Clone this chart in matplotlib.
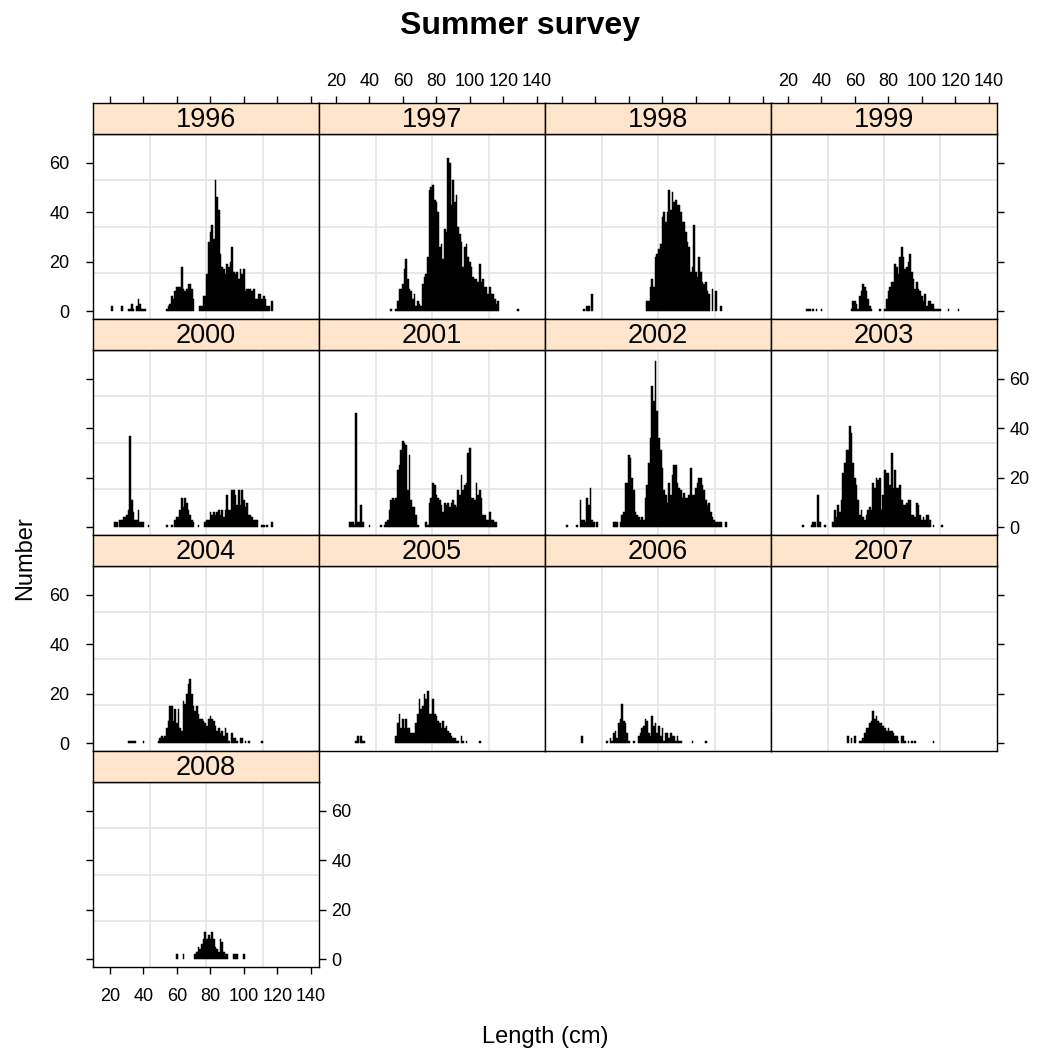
import numpy as np
import matplotlib
matplotlib.use("Agg")
import matplotlib.pyplot as plt

plt.rcParams['font.family'] = ['Liberation Sans', 'DejaVu Sans']

# ---------------- data (counts per 1 cm length class) ----------------
years = [1996, 1997, 1998, 1999, 2000, 2001, 2002, 2003, 2004, 2005, 2006, 2007, 2008]

start1996 = 21
n1996 = [2, 0, 0, 0, 0, 0, 2, 0, 0, 0, 1, 1, 3, 1, 0, 2, 5, 3, 1, 1, 1,
         0, 0, 0, 0, 0, 0, 0, 0, 0, 0, 0, 0,
         1, 2, 3, 6, 5, 8, 10, 10, 10, 18, 9, 8, 9, 11, 11, 9, 5,
         0, 0, 0,
         2, 2, 6, 6, 15, 28, 32, 35, 29, 53, 46, 41, 23, 18, 17, 15, 19, 18, 20, 26,
         16, 15, 16, 13, 17, 15, 17,
         8, 9, 9, 9, 8, 9, 5, 5, 7, 7, 5, 6, 5, 2, 2, 0, 4]

start1997 = 53
n1997 = [1, 0, 0,
         1, 4, 9, 9, 11, 17, 21, 13, 9, 8, 5, 7, 2, 4, 3, 2, 11, 14, 15, 22,
         49, 50, 51, 45, 44, 40, 26, 27, 21, 33, 32, 62, 60, 43, 53, 44, 47, 34, 31, 28,
         18, 26, 27, 22, 20, 18, 14, 13, 13, 12, 19, 12, 13, 10, 10, 7, 10, 7, 7, 5, 3, 4,
         0, 0, 0, 0, 0, 0, 0, 0, 0, 0, 0, 1]

start1998 = 33
n1998 = [1, 0, 2, 2, 0, 7] + [0] * 32 + \
        [4, 4, 10, 13, 10, 22, 23, 25, 27, 38, 40, 36, 40, 49,
         41, 48, 44, 45, 43, 43, 40, 36, 36, 32, 28, 26, 16, 18, 35,
         16, 14, 22, 16, 12, 11, 12, 8, 7, 0, 9, 0, 8, 0, 0, 2]

start1999 = 31
n1999 = [1, 1, 1, 0, 1, 0, 1, 0, 0, 1] + [0] * 17 + \
        [1, 4, 4, 3, 1, 6, 8, 11, 10, 8, 5, 2, 1, 0, 0, 0, 0, 1, 0, 0,
         1, 5, 8, 10, 12, 12, 19, 18, 15, 22, 26, 22, 17, 18, 20, 23, 16, 13, 9, 12,
         9, 8, 6, 4, 7, 2, 4, 4, 3, 3, 1, 1, 1, 1, 0, 0, 0, 0, 1, 0, 0, 0, 0, 0, 1]

start2000 = 23
n2000 = [2, 2, 0, 3, 3, 4, 4, 5, 7, 37, 11, 6, 3, 3, 7, 2, 2, 2, 0, 0, 1] + [0] * 10 + \
        [1, 0, 0, 1, 0, 3, 4, 4, 7, 12, 8, 12, 10, 7, 5, 3, 2, 0, 0, 1, 0, 0, 0,
         2, 3, 3, 6, 5, 6, 5, 6, 7, 5, 7, 4, 7, 13, 7, 7, 15, 15, 13, 9, 15, 9, 15,
         11, 8, 10, 5, 5, 4, 3, 3, 3, 0, 0, 1, 1, 0, 1, 0, 0, 2]

start2001 = 28
n2001 = [2, 2, 2, 1, 46, 2, 2, 9, 2, 0, 0, 0, 1, 0, 0, 0, 0, 0, 0, 1, 0, 1,
         2, 3, 7, 11, 12, 11, 12, 23, 25, 31, 35, 34, 33, 15, 29, 11, 8, 8, 5, 1,
         0, 0, 0, 0, 2, 1, 10, 12, 18, 17, 13, 12, 11, 9, 6, 10, 9, 10, 8, 10, 11, 9, 8,
         15, 13, 21, 15, 17, 18, 30, 32, 12, 12, 11, 18, 13, 15, 12, 5, 5, 3, 3, 6, 3, 3, 2, 2]

start2002 = 23
n2002 = [1, 0, 0, 0, 0, 0, 1, 0, 11, 3, 3, 2, 12, 9, 16, 3, 2, 0, 2] + [0] * 9 + \
        [2, 2, 2, 0, 2, 5, 6, 18, 18, 29, 28, 20, 15, 6, 5, 4, 3, 4, 3,
         12, 17, 26, 36, 57, 51, 67, 47, 36, 31, 24, 15, 13, 10, 18, 13, 21, 25, 25, 18,
         16, 15, 12, 14, 12, 12, 13, 24, 13, 13, 16, 18, 20, 20, 17, 15, 11, 9, 10, 6,
         4, 3, 2, 2, 2, 2, 0, 0, 2]

start2003 = 29
n2003 = [1, 0, 0, 0, 0, 1, 2, 2, 0, 13, 2, 0, 0, 1, 0, 0, 0, 0,
         2, 7, 4, 9, 6, 11, 22, 26, 31, 31, 41, 38, 26, 20, 17, 11, 5, 7, 4, 3, 5, 7, 8, 7,
         18, 16, 20, 19, 20, 7, 13, 23, 22, 22, 17, 30, 16, 23, 16, 16, 17, 11, 9, 9, 10,
         11, 11, 5, 5, 4, 10, 9, 5, 3, 4, 3, 5, 5, 3, 0, 1, 0, 0, 0, 0, 1]

start2004 = 31
n2004 = [1, 1, 1, 1, 1, 0, 0, 0, 0, 1] + [0] * 8 + \
        [1, 2, 3, 2, 3, 6, 9, 15, 15, 9, 14, 8, 14, 6, 5, 17, 16, 20, 24, 26, 20, 15, 13,
         15, 12, 10, 10, 9, 8, 7, 10, 11, 10, 9, 7, 5, 6, 4, 5, 3, 6, 4, 1, 0, 4, 2, 2, 1,
         0, 2, 2, 0, 1, 0, 1, 0, 0, 0, 0, 0, 0, 0, 1]

start2005 = 32
n2005 = [1, 3, 0, 3, 1, 1] + [0] * 18 + \
        [3, 8, 12, 6, 10, 6, 10, 6, 6, 4, 4, 4, 8, 12, 18, 14, 15, 20, 18, 21, 12, 12, 18,
         12, 11, 9, 8, 6, 9, 6, 7, 5, 4, 3, 2, 2, 1, 1, 0, 3, 1, 0, 1, 0, 0, 0, 0, 0, 0, 0, 1]

start2006 = 32
n2006 = [3] + [0] * 14 + \
        [1, 0, 2, 1, 4, 5, 2, 8, 10, 16, 9, 8, 4, 1, 0, 0, 1, 0, 0,
         3, 4, 6, 7, 10, 9, 4, 3, 11, 7, 8, 4, 7, 3, 6, 1, 4, 4, 2, 4, 3, 3, 1, 3, 1, 1,
         0, 0, 0, 0, 0, 0, 1, 0, 0, 0, 0, 0, 0, 0, 1]

start2007 = 56
n2007 = [3, 0, 2, 0, 3, 0, 0, 1, 1, 2, 4, 6, 6, 8, 9, 13, 10, 11, 9, 8, 8, 7, 6, 5, 6,
         5, 5, 4, 3, 3, 1, 0, 3, 3, 1, 0, 1, 0, 1, 0, 1] + [0] * 10 + [1]

start2008 = 60
n2008 = [2, 0, 0, 0, 2, 0, 0, 0, 0, 0, 0, 2, 3, 5, 4, 6, 8, 11, 8, 10, 8, 11, 8, 5, 4,
         3, 8, 7, 3, 2, 2, 0, 0, 0, 2, 2, 2, 0, 0, 0, 2]

xticks = [20, 40, 60, 80, 100, 120, 140]
yticks = [0, 20, 40, 60]

series = {1996: (start1996, n1996), 1997: (start1997, n1997), 1998: (start1998, n1998),
          1999: (start1999, n1999), 2000: (start2000, n2000), 2001: (start2001, n2001),
          2002: (start2002, n2002), 2003: (start2003, n2003), 2004: (start2004, n2004),
          2005: (start2005, n2005), 2006: (start2006, n2006), 2007: (start2007, n2007),
          2008: (start2008, n2008)}

# ---------------- layout ----------------
W, H = 1039, 1055
fig = plt.figure(figsize=(W / 100, H / 100), dpi=100)

X0, COLW = 93, 226
Y0, ROWP, STRIPH, PANH = 103, 216, 31, 185
XLIM = (9.8, 145.0)
YLIM = (-3.1, 71.5)
STRIP_COL = '#FFE5CC'
GRID_COL = '#E6E6E6'
TICK_FS = 13
STRIP_FS = 19.5


def px_axes(x, y, w, h):
    return fig.add_axes([x / W, 1 - (y + h) / H, w / W, h / H])


for i, yr in enumerate(years):
    r, c = divmod(i, 4)
    left = X0 + c * COLW
    top = Y0 + r * ROWP

    ax = px_axes(left, top + STRIPH, COLW, PANH)
    ax.set_xlim(*XLIM)
    ax.set_ylim(*YLIM)
    for f in (0.25, 0.5, 0.75):
        ax.plot([f, f], [0, 1], transform=ax.transAxes, color=GRID_COL, lw=1.3, zorder=0)
        ax.plot([0, 1], [f, f], transform=ax.transAxes, color=GRID_COL, lw=1.3, zorder=0)

    st, cnt = series[yr]
    L = np.arange(st, st + len(cnt))
    v = np.asarray(cnt, dtype=float)
    m = v > 0
    ax.bar(L[m], v[m], width=1.0, color='black', edgecolor='black', linewidth=0.35,
           zorder=2)

    for s in ax.spines.values():
        s.set_linewidth(1.0)
        s.set_color('black')

    ax.set_xticks(xticks)
    ax.set_yticks(yticks)
    left_t = (c == 0)
    left_l = (c == 0 and r in (0, 2))
    right_t = (c == 3) or (yr == 2008)
    right_l = (c == 3 and r == 1) or (yr == 2008)
    bot_t = (yr == 2008)
    ax.tick_params(direction='out', length=5, width=1, labelsize=TICK_FS,
                   left=left_t, labelleft=left_l, right=right_t, labelright=right_l,
                   top=False, labeltop=False, bottom=bot_t, labelbottom=bot_t)
    ax.tick_params(axis='y', pad=4)
    if left_l:
        ax.tick_params(axis='y', pad=12)
    ax.tick_params(axis='x', pad=10)

    sx = px_axes(left, top, COLW, STRIPH)
    sx.set_facecolor(STRIP_COL)
    sx.set_xlim(*XLIM)
    sx.set_ylim(0, 1)
    sx.set_yticks([])
    for s in sx.spines.values():
        s.set_linewidth(1.0)
        s.set_color('black')
    if r == 0:
        sx.set_xticks(xticks)
        sx.tick_params(axis='x', direction='out', length=5, width=1, labelsize=TICK_FS,
                       top=True, labeltop=(c in (1, 3)), bottom=False, labelbottom=False, pad=4)
    else:
        sx.set_xticks([])
    sx.text(0.5, 0.45, str(yr), transform=sx.transAxes, ha='center', va='center',
            fontsize=STRIP_FS)

fig.text(0.5, 1 - 26 / H, 'Summer survey', ha='center', va='center',
         fontsize=23, fontweight='bold')
fig.text(25 / W, 1 - 558 / H, 'Number', ha='center', va='center', rotation=90, fontsize=17)
fig.text(545 / W, 1 - 1037 / H, 'Length (cm)', ha='center', va='center', fontsize=17)

fig.savefig('out.png', dpi=100)
